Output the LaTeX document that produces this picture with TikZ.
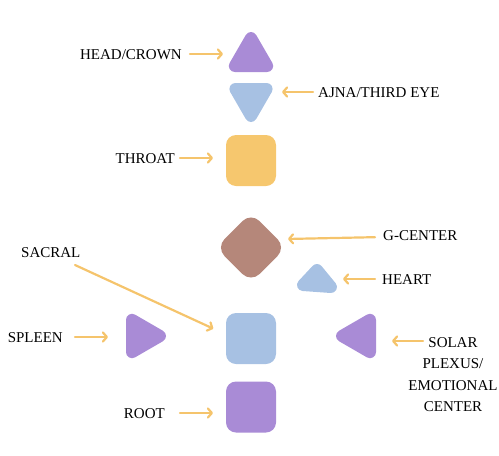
\documentclass[tikz,border=0pt]{standalone}
\usepackage{fontspec}
\setmainfont{Liberation Serif}
\usetikzlibrary{shapes.geometric,arrows.meta}
\definecolor{lila}{HTML}{A98BD6}
\definecolor{hellblau}{HTML}{A7C1E3}
\definecolor{gelb}{HTML}{F6C76E}
\definecolor{braun}{HTML}{B5877A}
\definecolor{pfeil}{HTML}{F5C46C}

\begin{document}
\begin{tikzpicture}[x=1pt,y=-1pt,
  lbl/.style={inner sep=0pt,font=\fontsize{15}{21.5}\selectfont},
  caps/.style={lbl,text height=10pt,text depth=0pt},
  arr/.style={draw=pfeil,line width=2.2pt,line cap=round,line join=round,-{Straight Barb[length=4pt,width=9pt,round]}},
  quad/.style={rectangle,rounded corners=10pt,minimum width=50pt,minimum height=51pt,inner sep=0pt,outer sep=0pt},
  dreieck/.style={line width=12pt,line join=round}]
%\draw[thin,gray] (0,0) grid[step=50] (499,456);
\useasboundingbox (0,0) rectangle (499,456);

% centers
\filldraw[dreieck,lila] (251,38) -- (267.2,66) -- (234.8,66) -- cycle;
\coordinate (crown) at (251,54);
\filldraw[dreieck,hellblau] (235.4,89) -- (266.6,89) -- (251,116) -- cycle;
\coordinate (ajna) at (251,92);
\node[quad,fill=gelb] (throat) at (251,160.5) {};
\node[diamond,fill=braun,minimum width=70pt,minimum height=70pt,inner sep=0pt,outer sep=0pt,rounded corners=12pt] (gcenter) at (251,247.5) {};
\filldraw[dreieck,hellblau] (317,270) -- (331,287) -- (303,285) -- cycle;
\coordinate (heart) at (339,279);
\node[quad,fill=hellblau] (sacral) at (251,338.5) {};
\filldraw[dreieck,lila] (132,319.8) -- (160,336) -- (132,352.2) -- cycle;
\coordinate (spleen) at (142,336);
\filldraw[dreieck,lila] (370,319.8) -- (342,336) -- (370,352.2) -- cycle;
\coordinate (solar) at (360,336);
\node[quad,fill=lila] (root) at (251,407) {};

% labels
\node[caps,anchor=east] (crownlbl) at (182,54) {HEAD/CROWN};
\node[caps,anchor=west] (ajnalbl) at (318,92) {AJNA/THIRD EYE};
\node[caps,anchor=east] (throatlbl) at (175,158) {THROAT};
\node[caps,anchor=west] (gclbl) at (383,235) {G-CENTER};
\node[caps,anchor=west] (heartlbl) at (382,279) {HEART};
\node[caps,anchor=west] (sacrallbl) at (21,252) {SACRAL};
\node[caps,anchor=east] (spleenlbl) at (63,337) {SPLEEN};
\node[lbl,anchor=north,align=center] (solarlbl) at (453,337) {SOLAR\\PLEXUS/\\EMOTIONAL\\CENTER};
\node[caps,anchor=east] (rootlbl) at (165,413) {ROOT};

% arrows
\coordinate (sacraltail) at (75,265);
\coordinate (solartail) at (423,341);
\draw[arr,shorten <=8pt,shorten >=28pt] (crownlbl) -- (crownlbl -| crown);
\draw[arr,shorten <=5pt,shorten >=31pt] (ajnalbl) -- (ajnalbl -| ajna);
\draw[arr,shorten <=5pt,shorten >=13pt] (throatlbl) -- (throatlbl -| throat.west);
\draw[arr,shorten <=8pt,shorten >=2pt] ([yshift=-2pt]gclbl.west) -- ([yshift=-4pt]gclbl.west -| gcenter.east);
\draw[arr,shorten <=7pt,shorten >=4pt] (heartlbl) -- (heart);
\draw[arr,shorten >=14pt] (sacraltail) -- ([yshift=4pt]sacral.west);
\draw[arr,shorten <=12pt,shorten >=34pt] (spleenlbl) -- (spleenlbl -| spleen);
\draw[arr,shorten >=32pt] (solartail) -- (solartail -| solar);
\draw[arr,shorten <=15pt,shorten >=13pt] (rootlbl) -- (rootlbl -| root.west);

\end{tikzpicture}
\end{document}
